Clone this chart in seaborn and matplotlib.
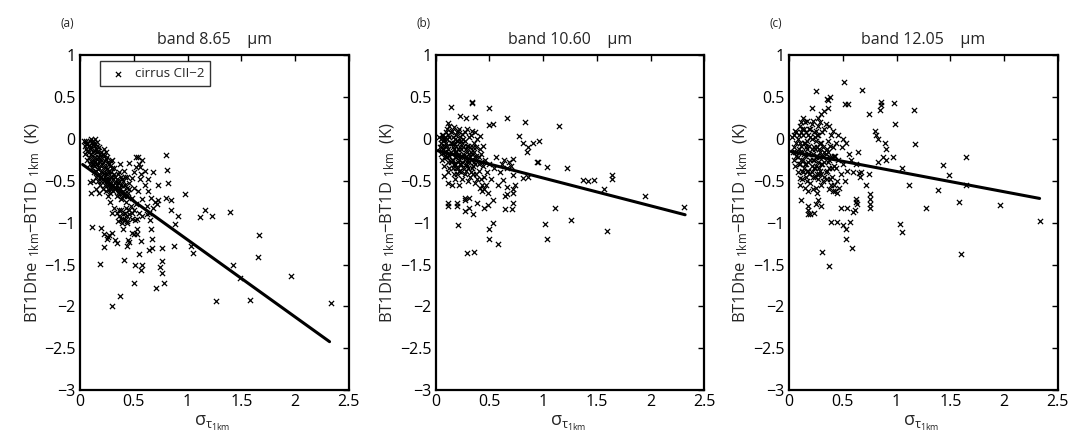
import numpy as np
import pandas as pd
import matplotlib
matplotlib.use("Agg")
import matplotlib.pyplot as plt
import seaborn as sns

# --- data (sigma_tau_1km, BT diff in K) ---
a_pts = [
    (0.04,-0.02),(0.05,-0.08),(0.06,-0.12),(0.07,-0.05),(0.08,-0.15),(0.09,-0.02),(0.10,-0.10),(0.11,-0.20),
    (0.12,-0.06),(0.13,-0.25),(0.14,-0.14),(0.15,-0.30),(0.16,-0.08),(0.17,-0.22),(0.18,-0.35),(0.19,-0.18),
    (0.20,-0.40),(0.21,-0.28),(0.22,-0.12),(0.23,-0.45),(0.24,-0.33),(0.25,-0.22),(0.26,-0.50),(0.27,-0.38),
    (0.28,-0.58),(0.29,-0.26),(0.30,-0.45),(0.31,-0.62),(0.32,-0.35),(0.33,-0.52),(0.34,-0.68),(0.35,-0.42),
    (0.36,-0.58),(0.37,-0.30),(0.38,-0.72),(0.39,-0.48),(0.40,-0.62),(0.41,-0.38),(0.42,-0.55),(0.43,-0.75),
    (0.44,-0.45),(0.45,-0.65),(0.46,-0.52),(0.48,-0.70),(0.50,-0.58),(0.52,-0.78),(0.54,-0.62),(0.56,-0.48),
    (0.58,-0.72),(0.60,-0.55),(0.62,-0.80),(0.05,-0.18),(0.07,-0.25),(0.09,-0.30),(0.11,-0.35),(0.13,-0.40),
    (0.15,-0.45),(0.17,-0.50),(0.19,-0.55),(0.21,-0.60),(0.10,0.00),(0.12,-0.02),(0.14,0.00),(0.16,-0.04),
    (0.18,-0.10),(0.20,-0.15),(0.22,-0.20),(0.24,-0.15),(0.26,-0.28),(0.28,-0.32),(0.30,-0.25),(0.32,-0.42),
    (0.34,-0.48),(0.36,-0.40),(0.38,-0.55),(0.40,-0.50),(0.42,-0.45),(0.44,-0.58),(0.46,-0.60),(0.32,-0.82),
    (0.34,-0.88),(0.36,-0.92),(0.38,-0.85),(0.40,-0.95),(0.42,-0.88),(0.44,-0.98),(0.46,-0.90),(0.48,-0.95),
    (0.50,-0.85),(0.35,-0.98),(0.39,-1.00),(0.43,-0.82),(0.47,-0.80),(0.30,-0.88),(0.28,-0.75),(0.26,-0.68),
    (0.24,-0.62),(0.22,-0.50),(0.20,-0.32),(0.18,-0.26),(0.16,-0.16),(0.14,-0.22),(0.12,-0.30),(0.10,-0.26),
    (0.08,-0.08),(0.06,-0.02),(0.25,-0.42),(0.27,-0.48),(0.29,-0.52),(0.31,-0.55),(0.33,-0.60),(0.35,-0.65),
    (0.37,-0.66),(0.39,-0.70),(0.41,-0.68),(0.55,-0.30),(0.58,-0.25),(0.52,-0.33),(0.60,-0.38),(0.57,-0.42),
    (0.50,-0.40),(0.48,-0.47),(0.63,-0.62),(0.66,-0.70),(0.70,-0.75),(0.68,-0.82),(0.72,-0.78),(0.55,-0.88),
    (0.58,-0.92),(0.62,-0.90),(0.53,-0.95),(0.15,-0.60),(0.18,-0.65),(0.12,-0.50),
    (0.06,-0.06),(0.07,-0.14),(0.08,-0.22),(0.09,-0.12),(0.10,-0.18),(0.11,-0.04),(0.11,-0.28),(0.12,-0.14),
    (0.13,-0.08),(0.13,-0.32),(0.14,-0.28),(0.15,-0.12),(0.15,-0.38),(0.16,-0.24),(0.16,-0.30),(0.17,-0.14),
    (0.17,-0.36),(0.18,-0.42),(0.19,-0.28),(0.19,-0.46),(0.20,-0.22),(0.20,-0.50),(0.21,-0.40),(0.21,-0.18),
    (0.22,-0.34),(0.22,-0.42),(0.23,-0.26),(0.23,-0.55),(0.24,-0.48),(0.24,-0.24),(0.25,-0.36),(0.25,-0.55),
    (0.26,-0.40),(0.26,-0.60),(0.27,-0.30),(0.27,-0.55),(0.28,-0.45),(0.28,-0.65),(0.29,-0.40),(0.29,-0.60),
    (0.30,-0.35),(0.30,-0.55),(0.31,-0.48),(0.32,-0.58),(0.33,-0.45),(0.34,-0.55),(0.35,-0.52),(0.36,-0.50),
    (0.37,-0.60),(0.38,-0.45),(0.40,-0.56),(0.42,-0.64),(0.44,-0.68),(0.36,-0.85),(0.40,-0.90),(0.44,-0.92),
    (0.38,-0.95),(0.42,-0.97),(0.46,-0.85),(0.48,-0.88),
    (0.80,-0.19),(0.805,-0.37),(0.815,-0.53),(0.976,-0.66),(1.16,-0.85),(1.115,-0.93),(1.227,-0.92),(1.39,-0.87),
    (1.66,-1.15),(1.655,-1.41),(1.425,-1.51),(1.487,-1.66),(1.96,-1.64),(1.264,-1.94),(1.583,-1.92),(2.33,-1.96),
    (0.30,-2.00),(0.37,-1.87),(0.50,-1.72),(0.71,-1.78),(0.78,-1.72),(0.76,-1.46),(0.765,-1.60),(0.74,-1.53),
    (0.76,-1.30),(0.877,-1.28),(1.03,-1.28),(1.05,-1.36),(0.88,-1.02),(0.91,-0.925),(0.85,-0.85),(0.846,-0.73),
    (0.80,-0.70),(0.73,-0.55),(0.635,-0.48),(0.68,-0.40),(0.56,-0.33),(0.52,-0.22),(0.54,-0.22),(0.46,-0.29),
    (0.57,-1.22),(0.67,-1.19),(0.67,-1.30),(0.64,-1.32),(0.55,-1.37),(0.51,-1.51),(0.57,-1.56),(0.58,-1.50),
    (0.41,-1.45),(0.19,-1.49),(0.22,-1.29),(0.22,-1.13),(0.20,-1.06),(0.115,-1.05),(0.26,-1.17),(0.33,-1.21),
    (0.34,-1.24),(0.30,-1.12),(0.45,-1.21),(0.46,-1.23),(0.44,-1.28),(0.48,-1.12),(0.50,-1.14),(0.53,-1.08),
    (0.53,-1.14),(0.40,-1.08),(0.44,-1.00),(0.66,-1.07),(0.65,-0.97),(0.64,-0.88),(0.73,-0.73),(0.51,-0.97),
    (0.09,-0.51),(0.10,-0.65),(0.25,-1.19),(0.27,-1.15),
]
a_fit_x = [0.025, 2.32]
a_fit_y = [-0.305, -2.42]

b_pts = [
    (0.03,0.02),(0.05,-0.05),(0.06,0.05),(0.07,-0.12),(0.08,0.00),(0.09,-0.20),(0.10,0.08),(0.11,-0.08),
    (0.12,-0.28),(0.13,0.02),(0.14,-0.15),(0.15,0.10),(0.16,-0.35),(0.17,-0.05),(0.18,-0.22),(0.19,0.05),
    (0.20,-0.42),(0.21,-0.12),(0.22,0.12),(0.23,-0.30),(0.24,-0.02),(0.25,-0.48),(0.26,-0.18),(0.27,0.08),
    (0.28,-0.38),(0.29,-0.08),(0.30,-0.25),(0.31,0.02),(0.32,-0.45),(0.33,-0.15),(0.34,0.10),(0.35,-0.32),
    (0.36,-0.05),(0.37,-0.52),(0.38,-0.20),(0.39,0.00),(0.40,-0.38),(0.41,-0.12),(0.42,-0.28),(0.43,-0.55),
    (0.44,-0.08),(0.45,-0.45),(0.06,-0.25),(0.08,-0.32),(0.10,-0.15),(0.12,-0.40),(0.14,-0.05),(0.16,-0.10),
    (0.18,-0.30),(0.20,-0.02),(0.22,-0.25),(0.24,-0.40),(0.26,0.00),(0.28,-0.12),(0.30,-0.50),(0.32,-0.22),
    (0.34,-0.35),(0.36,-0.28),(0.38,-0.42),(0.40,-0.22),(0.42,-0.48),(0.44,-0.32),(0.46,-0.25),(0.48,-0.40),
    (0.50,-0.30),(0.52,-0.48),(0.54,-0.35),(0.56,-0.22),(0.58,-0.55),(0.60,-0.40),(0.62,-0.30),(0.64,-0.25),
    (0.66,-0.35),(0.68,-0.28),(0.70,-0.32),(0.72,-0.24),(0.11,0.12),(0.13,0.15),(0.17,0.14),(0.21,0.10),
    (0.25,0.06),(0.29,0.12),(0.33,0.05),(0.37,0.08),(0.41,0.04),(0.04,-0.10),(0.05,-0.18),(0.07,-0.02),
    (0.09,-0.08),(0.11,-0.22),(0.13,-0.35),(0.15,-0.25),(0.17,-0.42),(0.19,-0.15),(0.21,-0.35),(0.23,-0.10),
    (0.25,-0.28),(0.27,-0.42),(0.29,-0.32),(0.31,-0.18),(0.33,-0.40),(0.35,-0.10),(0.37,-0.30),(0.39,-0.48),
    (0.41,-0.58),(0.43,-0.62),(0.45,-0.60),(0.47,-0.55),(0.49,-0.65),(0.15,-0.55),(0.18,-0.48),(0.22,-0.55),
    (0.05,0.00),(0.06,-0.10),(0.07,0.05),(0.08,-0.16),(0.09,0.02),(0.10,-0.05),(0.10,-0.22),(0.11,0.00),
    (0.12,-0.12),(0.12,0.05),(0.13,-0.20),(0.14,0.08),(0.14,-0.28),(0.15,-0.05),(0.15,-0.18),(0.16,0.02),
    (0.16,-0.25),(0.17,-0.12),(0.17,-0.30),(0.18,0.00),(0.18,-0.15),(0.19,-0.08),(0.19,-0.35),(0.20,-0.20),
    (0.20,0.08),(0.21,-0.28),(0.21,-0.02),(0.22,-0.18),(0.22,-0.38),(0.23,0.02),(0.23,-0.22),(0.24,-0.12),
    (0.24,-0.30),(0.25,-0.05),(0.25,-0.20),(0.26,-0.35),(0.26,-0.10),(0.27,-0.25),(0.27,-0.02),(0.28,-0.20),
    (0.28,-0.30),(0.29,-0.15),(0.30,-0.08),(0.30,-0.35),(0.31,-0.28),(0.32,-0.10),(0.33,-0.25),(0.34,-0.18),
    (0.35,-0.42),(0.36,-0.15),(0.37,-0.22),(0.38,-0.10),(0.40,-0.30),(0.42,-0.18),
    (0.14,0.385),(0.335,0.44),(0.34,0.43),(0.50,0.365),(0.23,0.275),(0.28,0.25),(0.37,0.26),(0.66,0.245),
    (0.835,0.205),(1.15,0.16),(0.12,0.19),(0.50,0.17),(0.53,0.18),(0.78,0.03),(0.81,-0.05),(0.86,-0.10),
    (0.85,-0.15),(0.91,-0.05),(0.96,-0.03),(0.95,-0.28),(1.04,-0.33),(1.22,-0.35),(1.37,-0.49),(1.42,-0.50),
    (1.47,-0.49),(1.64,-0.43),(1.64,-0.48),(1.57,-0.60),(1.95,-0.68),(2.31,-0.81),(1.59,-1.10),(1.26,-0.97),
    (1.11,-0.83),(1.02,-1.02),(1.04,-1.19),(0.58,-1.25),(0.50,-1.20),(0.50,-1.08),(0.53,-1.00),(0.295,-1.365),
    (0.36,-1.35),(0.21,-1.03),(0.12,-0.76),(0.20,-0.77),(0.20,-0.80),(0.12,-0.80),(0.27,-0.86),(0.31,-0.82),
    (0.35,-0.89),(0.27,-0.73),(0.27,-0.70),(0.31,-0.70),(0.39,-0.77),(0.45,-0.83),(0.49,-0.79),(0.53,-0.73),
    (0.65,-0.84),(0.71,-0.84),(0.65,-0.68),(0.66,-0.66),(0.72,-0.77),(0.63,-0.49),(0.66,-0.57),(0.72,-0.65),
    (0.72,-0.60),(0.74,-0.55),(0.72,-0.43),(0.81,-0.47),(0.86,-0.46),(0.94,-0.28),(0.12,-0.52),(0.08,-0.44),
]
b_fit_x = [0.02, 2.32]
b_fit_y = [-0.14, -0.905]

c_pts = [
    (0.03,0.02),(0.05,-0.10),(0.06,0.10),(0.07,-0.20),(0.08,0.00),(0.09,-0.30),(0.10,0.15),(0.11,-0.08),
    (0.12,-0.38),(0.13,0.05),(0.14,-0.18),(0.15,0.20),(0.16,-0.45),(0.17,-0.02),(0.18,-0.28),(0.19,0.12),
    (0.20,-0.52),(0.21,-0.12),(0.22,0.22),(0.23,-0.35),(0.24,0.02),(0.25,-0.58),(0.26,-0.20),(0.27,0.15),
    (0.28,-0.42),(0.29,-0.05),(0.30,-0.30),(0.31,0.08),(0.32,-0.50),(0.33,-0.15),(0.34,0.18),(0.35,-0.38),
    (0.36,-0.02),(0.37,-0.60),(0.38,-0.22),(0.39,0.05),(0.40,-0.45),(0.41,-0.10),(0.42,-0.32),(0.43,-0.62),
    (0.44,-0.05),(0.45,-0.50),(0.06,-0.32),(0.08,-0.40),(0.10,-0.15),(0.12,-0.48),(0.14,-0.05),(0.16,-0.10),
    (0.18,-0.38),(0.20,0.02),(0.22,-0.25),(0.24,-0.45),(0.26,0.05),(0.28,-0.12),(0.30,-0.55),(0.32,-0.22),
    (0.34,-0.40),(0.36,-0.28),(0.38,-0.48),(0.40,-0.22),(0.42,-0.55),(0.44,-0.35),(0.46,-0.25),(0.48,-0.42),
    (0.50,-0.30),(0.52,-0.50),(0.54,-0.38),(0.56,-0.18),(0.58,-0.25),(0.60,-0.40),(0.62,-0.30),(0.64,-0.15),
    (0.11,0.20),(0.13,0.25),(0.17,0.22),(0.21,0.18),(0.25,0.10),(0.29,0.20),(0.33,0.12),(0.37,0.15),
    (0.41,0.10),(0.04,-0.15),(0.05,-0.25),(0.07,-0.05),(0.09,-0.12),(0.11,-0.25),(0.13,-0.40),(0.15,-0.30),
    (0.17,-0.50),(0.19,-0.18),(0.21,-0.40),(0.23,-0.10),(0.25,-0.32),(0.27,-0.48),(0.29,-0.38),(0.31,-0.20),
    (0.33,-0.45),(0.35,-0.12),(0.37,-0.35),(0.39,-0.55),(0.41,-0.62),(0.43,-0.20),(0.45,-0.65),(0.47,-0.58),
    (0.49,-0.10),(0.15,-0.58),(0.18,-0.62),(0.22,-0.60),(0.26,-0.65),(0.50,0.00),(0.53,-0.05),(0.46,0.05),
    (0.05,0.05),(0.06,-0.15),(0.07,0.08),(0.08,-0.22),(0.09,0.05),(0.10,-0.05),(0.10,-0.30),(0.11,0.08),
    (0.12,-0.15),(0.12,0.12),(0.13,-0.25),(0.14,0.12),(0.14,-0.35),(0.15,-0.05),(0.15,-0.20),(0.16,0.08),
    (0.16,-0.30),(0.17,-0.12),(0.17,-0.38),(0.18,0.05),(0.18,-0.18),(0.19,-0.08),(0.19,-0.42),(0.20,-0.25),
    (0.20,0.12),(0.21,-0.32),(0.21,0.00),(0.22,-0.18),(0.22,-0.45),(0.23,0.08),(0.23,-0.25),(0.24,-0.12),
    (0.24,-0.35),(0.25,-0.02),(0.25,-0.22),(0.26,-0.42),(0.26,-0.10),(0.27,-0.28),(0.27,0.05),(0.28,-0.22),
    (0.28,-0.35),(0.29,-0.15),(0.30,-0.05),(0.30,-0.42),(0.31,-0.30),(0.32,-0.10),(0.33,-0.28),(0.34,-0.18),
    (0.35,-0.48),(0.36,-0.15),(0.37,-0.25),(0.38,-0.08),(0.40,-0.35),(0.42,-0.20),
    (0.515,0.68),(0.675,0.58),(0.25,0.57),(0.35,0.48),(0.36,0.47),(0.38,0.50),(0.52,0.42),(0.55,0.42),
    (0.86,0.44),(0.86,0.40),(0.975,0.43),(1.165,0.345),(0.85,0.35),(0.74,0.30),(0.21,0.37),(0.36,0.37),
    (0.33,0.33),(0.27,0.25),(0.30,0.30),(0.99,0.18),(0.80,0.10),(0.81,0.05),(0.83,0.00),(0.89,-0.05),
    (0.90,-0.12),(1.17,-0.06),(0.90,-0.25),(0.87,-0.22),(0.97,-0.22),(0.83,-0.27),(1.05,-0.35),(1.12,-0.55),
    (1.43,-0.31),(1.49,-0.43),(1.65,-0.22),(1.65,-0.55),(1.39,-0.61),(1.27,-0.825),(1.58,-0.75),(1.96,-0.79),
    (2.33,-0.985),(1.60,-1.37),(1.03,-1.02),(1.05,-1.11),(0.59,-1.30),(0.53,-1.20),(0.53,-1.08),(0.50,-1.03),
    (0.57,-0.99),(0.60,-0.87),(0.61,-0.85),(0.54,-0.82),(0.48,-0.83),(0.39,-0.99),(0.45,-0.99),(0.31,-1.35),
    (0.375,-1.52),(0.11,-0.73),(0.18,-0.80),(0.18,-0.85),(0.18,-0.90),(0.20,-0.90),(0.23,-0.88),(0.25,-0.78),
    (0.27,-0.73),(0.30,-0.80),(0.10,-0.47),(0.10,-0.55),(0.62,-0.72),(0.62,-0.75),(0.63,-0.78),(0.75,-0.66),
    (0.75,-0.72),(0.75,-0.78),(0.75,-0.83),(0.72,-0.55),(0.66,-0.45),(0.65,-0.41),(0.67,-0.40),(0.74,-0.42),
]
c_fit_x = [0.02, 2.33]
c_fit_y = [-0.15, -0.71]

bands = ["8.65", "10.60", "12.05"]
panel_tags = ["(a)", "(b)", "(c)"]
x_ticks = [0, 0.5, 1, 1.5, 2, 2.5]
y_ticks = [-3, -2.5, -2, -1.5, -1, -0.5, 0, 0.5, 1]

sns.set_theme(style="white")
plt.rcParams["font.family"] = ["Open Sans", "DejaVu Sans"]
plt.rcParams["mathtext.fontset"] = "custom"
plt.rcParams["mathtext.rm"] = "Open Sans"
plt.rcParams["mathtext.it"] = "Open Sans"
plt.rcParams["mathtext.default"] = "regular"

MINUS = "\u2212"
ylab = r"BT1Dhe$\ _{1km}$" + MINUS + r"BT1D$\ _{1km}$  (K)"

fig = plt.figure(figsize=(10.69, 4.38), dpi=100)
lefts = [0.0748, 0.4074, 0.738]
panels = [(a_pts, a_fit_x, a_fit_y), (b_pts, b_fit_x, b_fit_y), (c_pts, c_fit_x, c_fit_y)]

for i, (pts, fx, fy) in enumerate(panels):
    ax = fig.add_axes([lefts[i], 0.109, 0.2516, 0.765])
    df = pd.DataFrame(pts, columns=["sigma", "dbt"])
    sns.scatterplot(data=df, x="sigma", y="dbt", ax=ax, marker="x", color="black",
                    s=14, linewidth=0.9, label="cirrus CII" + MINUS + "2" if i == 0 else None)
    fit = pd.DataFrame({"sigma": fx, "dbt": fy})
    sns.lineplot(data=fit, x="sigma", y="dbt", ax=ax, color="black", linewidth=2.2)

    ax.set_xlim(0, 2.5)
    ax.set_ylim(-3, 1)
    ax.set_xticks(x_ticks)
    ax.set_xticklabels(["0", "0.5", "1", "1.5", "2", "2.5"])
    ax.set_yticks(y_ticks)
    ax.set_yticklabels([MINUS + "3", MINUS + "2.5", MINUS + "2", MINUS + "1.5", MINUS + "1",
                        MINUS + "0.5", "0", "0.5", "1"])
    ax.tick_params(direction="in", length=4, width=1, top=True, right=True,
                   labelsize=11.5, pad=3, colors="black")
    for sp in ax.spines.values():
        sp.set_linewidth(1.6)
        sp.set_color("black")

    ax.set_xlabel("")
    ax.set_ylabel(ylab, fontsize=12, labelpad=2)
    ax.text(0.425, -0.072, r"$\sigma_{\tau_{1km}}$", transform=ax.transAxes,
            ha="left", va="top", fontsize=13)
    ax.set_title("band " + bands[i] + "    \u03bcm", fontsize=11.5, pad=8)
    fig.text(lefts[i] - 0.018, 0.938, panel_tags[i], fontsize=8.5, ha="left")

    if i == 0:
        leg = ax.legend(loc="upper left", bbox_to_anchor=(0.074, 0.982), borderaxespad=0,
                        frameon=True, fancybox=False, edgecolor="black", fontsize=9.5,
                        handletextpad=0.4, handlelength=1.8, borderpad=0.45)
        leg.get_frame().set_linewidth(1.0)
    else:
        if ax.get_legend():
            ax.get_legend().remove()

fig.savefig("out.png", dpi=100)
